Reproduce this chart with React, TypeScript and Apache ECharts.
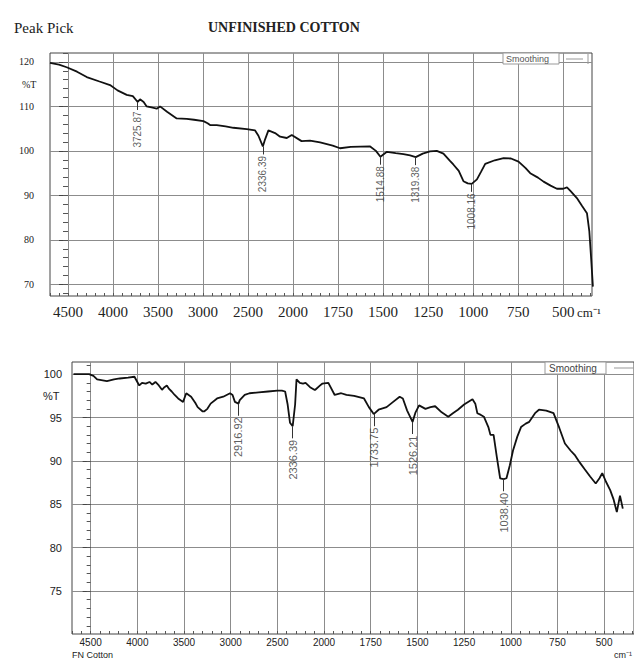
import React, { useEffect, useRef } from "react";
import * as echarts from "echarts";

// ---------- data ----------
const xTickWavenumbers = [4500, 4000, 3500, 3000, 2500, 2000, 1750, 1500, 1250, 1000, 750, 500];
const topYTicks = [70, 80, 90, 100, 110, 120];
const bottomYTicks = [75, 80, 85, 90, 95, 100];

const topWavenumbers = [4700, 4600, 4515, 4400, 4292, 4150, 4033, 3950, 3848, 3780, 3726, 3700, 3660, 3626, 3560, 3515, 3478, 3400, 3293, 3181, 3100, 2996, 2950, 2922, 2848, 2750, 2663, 2515, 2422, 2385, 2336, 2311, 2274, 2200, 2144, 2070, 2015, 1953, 1906, 1850, 1780, 1739, 1680, 1572, 1540, 1515, 1479, 1430, 1387, 1350, 1319, 1280, 1240, 1202, 1165, 1130, 1109, 1080, 1054, 1030, 1008, 979, 955, 933, 880, 831, 790, 748, 710, 683, 640, 609, 570, 535, 500, 479, 460, 424, 395, 368, 355, 345, 335];
const topTransmittance = [119.8, 119.4, 118.8, 117.8, 116.6, 115.6, 114.8, 113.6, 112.6, 112.3, 111.0, 111.6, 111.0, 110.0, 109.7, 109.5, 110.0, 108.8, 107.3, 107.2, 107.0, 106.7, 106.2, 105.8, 105.8, 105.5, 105.2, 104.9, 104.6, 103.4, 101.0, 102.6, 104.6, 104.0, 103.2, 102.9, 103.6, 102.2, 102.3, 101.9, 101.2, 100.6, 100.9, 101.0, 100.0, 98.7, 99.8, 99.5, 99.3, 99.0, 98.6, 99.4, 99.9, 100.0, 99.4, 97.8, 96.9, 95.5, 93.2, 92.7, 92.6, 93.6, 95.4, 97.1, 97.9, 98.4, 98.3, 97.6, 96.2, 95.0, 94.0, 93.1, 92.2, 91.5, 91.5, 91.8, 91.0, 89.4, 87.6, 86.0, 82.0, 76.0, 69.5];

const bottomWavenumbers = [4684, 4600, 4517, 4470, 4431, 4326, 4250, 4188, 4100, 4031, 3990, 3979, 3950, 3910, 3870, 3840, 3806, 3770, 3736, 3710, 3684, 3660, 3632, 3600, 3563, 3510, 3490, 3476, 3424, 3380, 3354, 3300, 3285, 3250, 3215, 3146, 3080, 3007, 2980, 2955, 2917, 2903, 2850, 2799, 2700, 2600, 2500, 2451, 2417, 2390, 2365, 2336, 2310, 2295, 2260, 2226, 2198, 2150, 2104, 2094, 2042, 2020, 1977, 1943, 1908, 1880, 1839, 1786, 1760, 1734, 1708, 1665, 1630, 1595, 1578, 1555, 1526, 1510, 1491, 1457, 1430, 1405, 1370, 1335, 1310, 1283, 1250, 1205, 1190, 1179, 1160, 1144, 1120, 1109, 1092, 1075, 1057, 1038, 1023, 1005, 988, 965, 945, 920, 901, 870, 849, 810, 771, 740, 710, 680, 658, 630, 606, 575, 545, 525, 510, 490, 467, 450, 432, 415, 400];
const bottomTransmittance = [100.0, 100.0, 100.0, 99.8, 99.4, 99.2, 99.4, 99.5, 99.6, 99.7, 98.9, 98.7, 99.0, 98.9, 99.1, 98.8, 99.1, 98.7, 98.2, 98.5, 98.7, 98.3, 98.0, 97.6, 97.2, 96.8, 97.4, 97.8, 97.4, 96.7, 96.2, 95.7, 95.7, 96.0, 96.6, 97.2, 97.4, 97.8, 97.6, 96.8, 96.6, 97.0, 97.6, 97.8, 97.9, 98.0, 98.1, 98.1, 98.0, 96.5, 94.4, 94.0, 96.5, 99.4, 99.0, 98.9, 99.0, 98.5, 98.2, 98.2, 98.7, 98.9, 99.0, 97.6, 97.8, 97.6, 97.5, 97.2, 96.2, 95.4, 95.9, 96.2, 96.8, 97.4, 97.2, 95.8, 94.5, 95.6, 96.4, 96.0, 96.2, 96.3, 95.6, 95.1, 95.5, 95.9, 96.5, 97.1, 96.6, 95.5, 95.3, 95.1, 93.9, 93.0, 93.0, 90.5, 88.0, 87.9, 88.0, 89.5, 91.2, 92.8, 93.9, 94.3, 94.5, 95.5, 95.9, 95.8, 95.5, 93.8, 92.0, 91.2, 90.7, 89.8, 89.1, 88.2, 87.4, 88.0, 88.6, 87.6, 86.6, 85.6, 84.1, 86.0, 84.5];

const topPeakWavenumbers = [3725.87, 2336.39, 1514.88, 1319.38, 1008.16];
const topPeakTransmittance = [111.0, 101.0, 98.7, 98.6, 92.6];
const bottomPeakWavenumbers = [2916.92, 2336.39, 1733.75, 1526.21, 1038.4];
const bottomPeakTransmittance = [96.6, 94.0, 95.4, 94.5, 87.9];

// ---------- axis transform (spectrometer scale changes at 2000 cm-1) ----------
const toT = (w: number) => (w >= 2000 ? (4500 - w) / 500 : 5 + (2000 - w) / 250);
const majorT = xTickWavenumbers.map(toT);
const minorT: number[] = [];
for (let i = -2; i <= 58; i++) minorT.push(i * 0.2);
const topMinorY: number[] = [];
for (let v = 68; v <= 122; v += 2) topMinorY.push(v);
const bottomMinorY: number[] = [];
for (let v = 71; v <= 101; v += 1) bottomMinorY.push(v);

const xLabel = (v: number) => {
  const i = majorT.findIndex((t) => Math.abs(t - v) < 1e-6);
  return i >= 0 ? String(xTickWavenumbers[i]) : "";
};

const SERIF = "Liberation Serif";
const SANS = "Liberation Sans";
const GRID_LINE = "#8c8c8c";
const BORDER = "#444";

export default function App() {
  const ref = useRef<HTMLDivElement>(null);
  useEffect(() => {
    if (!ref.current) return;
    const chart = echarts.init(ref.current, undefined, { renderer: "svg" });

    const xMain = (gi: number, fontFamily: string, fontSize: number, margin: number) => ({
      type: "value",
      gridIndex: gi,
      position: "bottom",
      min: -0.4,
      max: 11.64,
      axisLine: { show: false },
      axisTick: { show: false, customValues: majorT },
      axisLabel: {
        customValues: majorT,
        formatter: xLabel,
        fontFamily,
        fontSize,
        color: "#222",
        margin,
      },
      splitLine: { show: true, lineStyle: { color: GRID_LINE, width: 1 } },
    });
    const xMinor = (gi: number) => ({
      type: "value",
      gridIndex: gi,
      position: "bottom",
      offset: 0,
      min: -0.4,
      max: 11.64,
      axisLine: { show: false },
      axisTick: { show: true, inside: true, length: 3, customValues: minorT, lineStyle: { color: "#555" } },
      axisLabel: { show: false },
      splitLine: { show: false },
    });
    const yMain = (gi: number, min: number, max: number, ticks: number[], fontFamily: string, fontSize: number, margin: number, len: number) => ({
      type: "value",
      gridIndex: gi,
      position: "left",
      min,
      max,
      axisLine: { show: false },
      axisTick: { show: true, length: len, customValues: ticks, lineStyle: { color: "#444" } },
      axisLabel: { customValues: ticks, fontFamily, fontSize, color: "#222", margin },
      splitLine: { show: true, lineStyle: { color: GRID_LINE, width: 1 } },
    });
    const yMinor = (gi: number, min: number, max: number, ticks: number[], len: number) => ({
      type: "value",
      gridIndex: gi,
      position: "left",
      offset: 0,
      min,
      max,
      axisLine: { show: false },
      axisTick: { show: true, length: len, customValues: ticks, lineStyle: { color: "#555" } },
      axisLabel: { show: false },
      splitLine: { show: false },
    });

    const peakSeries = (xi: number, yi: number, wns: number[], ts: number[], leader: number, fontSize: number) => ({
      type: "scatter",
      xAxisIndex: xi,
      yAxisIndex: yi,
      symbolSize: 1,
      itemStyle: { color: "rgba(0,0,0,0)" },
      z: 5,
      data: wns.map((w, i) => [toT(w), ts[i] - leader, w.toFixed(2)]),
      label: {
        show: true,
        position: "bottom",
        distance: 1,
        rotate: 90,
        align: "right",
        verticalAlign: "middle",
        fontFamily: SANS,
        fontSize,
        color: "#333",
        formatter: (p: any) => p.data[2],
      },
      markLine: {
        silent: true,
        symbol: ["none", "none"],
        label: { show: false },
        lineStyle: { color: "#333", width: 1, type: "solid" },
        data: wns.map((w, i) => [
          { coord: [toT(w), ts[i]] },
          { coord: [toT(w), ts[i] - leader] },
        ]),
      },
    });

    const option: any = {
      animation: false,
      backgroundColor: "#fff",
      grid: [
        { left: 50, top: 53, width: 542, height: 243, show: true, borderColor: BORDER, borderWidth: 1, backgroundColor: "transparent" },
        { left: 72, top: 362, width: 573, height: 272, show: true, borderColor: BORDER, borderWidth: 1, backgroundColor: "transparent" },
      ],
      xAxis: [xMain(0, SERIF, 15, 8), xMinor(0), xMain(1, SANS, 10, 3), xMinor(1)],
      yAxis: [
        yMain(0, 67.4, 122, topYTicks, SERIF, 10, 16, 9),
        yMinor(0, 67.4, 122, topMinorY, 5),
        yMain(1, 70.05, 101.4, bottomYTicks, SANS, 11, 10, 8),
        yMinor(1, 70.05, 101.4, bottomMinorY, 4),
      ],
      series: [
        {
          name: "Smoothing",
          type: "line",
          xAxisIndex: 0,
          yAxisIndex: 0,
          showSymbol: false,
          symbol: "none",
          clip: true,
          lineStyle: { color: "#111", width: 1.8 },
          data: topWavenumbers.map((w, i) => [toT(w), topTransmittance[i]]),
          z: 4,
        },
        {
          name: "Smoothing",
          type: "line",
          xAxisIndex: 2,
          yAxisIndex: 2,
          showSymbol: false,
          symbol: "none",
          clip: true,
          lineStyle: { color: "#111", width: 1.8 },
          data: bottomWavenumbers.map((w, i) => [toT(w), bottomTransmittance[i]]),
          z: 4,
        },
        peakSeries(0, 0, topPeakWavenumbers, topPeakTransmittance, 1.8, 10),
        peakSeries(2, 2, bottomPeakWavenumbers, bottomPeakTransmittance, 1.4, 11),
      ],
      graphic: [
        { type: "text", left: 14, top: 20, style: { text: "Peak Pick", fontFamily: SERIF, fontSize: 15, fill: "#222" } },
        { type: "text", left: 208, top: 20, style: { text: "UNFINISHED COTTON", fontFamily: SERIF, fontSize: 14, fontWeight: "bold", fill: "#222" } },
        { type: "text", x: 22, y: 84, style: { text: "%T", fontFamily: SERIF, fontSize: 10, fill: "#222", verticalAlign: "middle" } },
        { type: "text", x: 577, y: 312, style: { text: "cm\u207B\u00B9", fontFamily: SERIF, fontSize: 13, fill: "#222", verticalAlign: "middle" } },
        { type: "text", x: 43, y: 396, style: { text: "%T", fontFamily: SANS, fontSize: 11, fill: "#222", verticalAlign: "middle" } },
        { type: "text", x: 72, y: 650, style: { text: "FN Cotton", fontFamily: SANS, fontSize: 9, fill: "#222", verticalAlign: "top" } },
        { type: "text", x: 614, y: 650, style: { text: "cm\u207B\u00B9", fontFamily: SANS, fontSize: 9, fill: "#222", verticalAlign: "top" } },
        // legend boxes
        { type: "rect", z: 10, shape: { x: 503, y: 53, width: 56, height: 11 }, style: { fill: "#fff", stroke: "#999", lineWidth: 1 } },
        { type: "text", z: 11, x: 506, y: 58.5, style: { text: "Smoothing", fontFamily: SANS, fontSize: 9, fill: "#555", verticalAlign: "middle" } },
        { type: "line", z: 11, shape: { x1: 566, y1: 59, x2: 583, y2: 59 }, style: { stroke: "#999", lineWidth: 1 } },
        { type: "line", z: 11, shape: { x1: 588, y1: 54, x2: 588, y2: 64 }, style: { stroke: "#999", lineWidth: 1 } },
        { type: "rect", z: 10, shape: { x: 545, y: 362, width: 61, height: 12 }, style: { fill: "#fff", stroke: "#999", lineWidth: 1 } },
        { type: "text", z: 11, x: 549, y: 368, style: { text: "Smoothing", fontFamily: SANS, fontSize: 10, fill: "#444", verticalAlign: "middle" } },
        { type: "line", z: 11, shape: { x1: 614, y1: 368, x2: 634, y2: 368 }, style: { stroke: "#999", lineWidth: 1 } },
      ],
    };
    chart.setOption(option);
    return () => chart.dispose();
  }, []);
  return <div ref={ref} style={{ position: "absolute", left: 0, top: 0, width: 634, height: 660 }} />;
}
